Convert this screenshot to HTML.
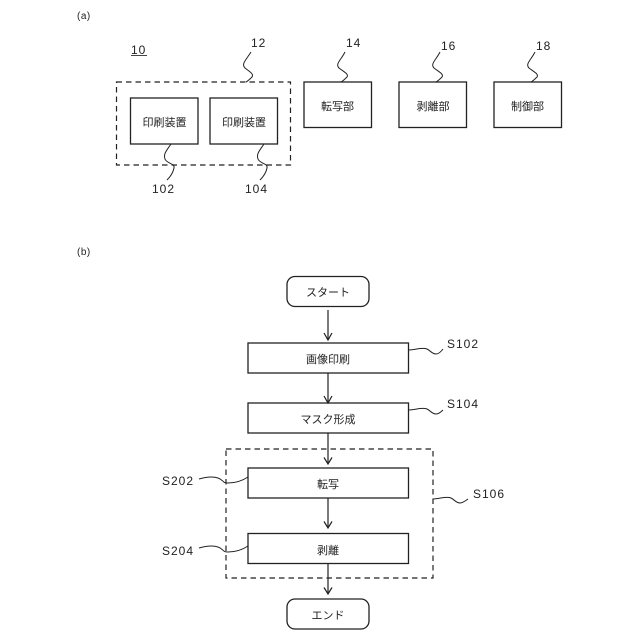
<!DOCTYPE html>
<html><head><meta charset="utf-8"><style>
html,body{margin:0;padding:0;background:#fff}
svg{display:block}
text{font-family:"Liberation Sans","Noto Sans CJK JP",sans-serif;fill:#222}
.j{font-size:11px;text-anchor:middle}
.n{font-size:12px;letter-spacing:1px}
.b{fill:#fff;stroke:#222;stroke-width:1.3}
.d{fill:none;stroke:#222;stroke-width:1.2;stroke-dasharray:5.5 4}
.w{fill:none;stroke:#222;stroke-width:1}
.a{fill:none;stroke:#222;stroke-width:1.2}
</style></head><body>
<svg width="640" height="640" viewBox="0 0 640 640" xmlns="http://www.w3.org/2000/svg">
<text x="77" y="19" style="font-size:10px;letter-spacing:.5px">(a)</text>
<text x="131" y="54" class="n">10</text>
<line x1="131" y1="55.5" x2="147" y2="55.5" stroke="#444" stroke-width="1"/>
<rect class="d" x="116.5" y="82" width="174" height="83"/>
<rect class="b" x="130.5" y="98" width="67.5" height="46"/>
<rect class="b" x="210" y="98" width="67.5" height="46"/>
<rect class="b" x="304" y="82" width="67.5" height="45.5"/>
<rect class="b" x="399" y="82" width="67.5" height="45.5"/>
<rect class="b" x="494" y="82" width="67.5" height="45.5"/>
<text class="j" x="164.500" y="126">印刷装置</text>
<text class="j" x="244" y="126">印刷装置</text>
<text class="j" x="337.500" y="110">転写部</text>
<text class="j" x="433" y="110">剥離部</text>
<text class="j" x="527.500" y="110">制御部</text>
<path class="w" d="M251 52C246 60 241 64 245 68C250 72 254 74 252 77C250 79 248 81 246 82"/>
<path class="w" d="M345 52C341 60 335 64 339 68C344 72 349 74 347 77C345 79 343 81 341 82"/>
<path class="w" d="M440 52C436 60 430 64 434 68C439 72 444 74 442 77C440 79 438 81 436 82"/>
<path class="w" d="M535 52C531 60 525 64 529 68C534 72 539 74 537 77C535 79 533 81 531 82"/>
<path class="w" d="M171 144C167 150 163 154 165 159C167 164 175 163 174 168C173 173 170 177 167 180"/>
<path class="w" d="M264 144C260 150 256 154 258 159C260 164 268 163 267 168C266 173 263 177 260 180"/>
<text class="n" x="251" y="47">12</text>
<text class="n" x="346" y="47">14</text>
<text class="n" x="441" y="50">16</text>
<text class="n" x="536" y="50">18</text>
<text class="n" x="152" y="193">102</text>
<text class="n" x="245" y="193">104</text>
<text x="77" y="255" style="font-size:10px;letter-spacing:.5px">(b)</text>
<rect class="d" x="226" y="449" width="207" height="129"/>
<rect class="b" x="287" y="276.500" width="82" height="30" rx="8"/>
<rect class="b" x="248" y="343" width="160.500" height="30"/>
<rect class="b" x="248" y="403" width="160.500" height="30"/>
<rect class="b" x="248" y="468" width="160.500" height="30"/>
<rect class="b" x="248" y="533.500" width="160.500" height="30"/>
<rect class="b" x="287" y="599" width="82" height="30" rx="8"/>
<text class="j" x="328" y="296">スタート</text>
<text class="j" x="328" y="363">画像印刷</text>
<text class="j" x="328" y="423">マスク形成</text>
<text class="j" x="328" y="488">転写</text>
<text class="j" x="328" y="554">剥離</text>
<text class="j" x="328" y="619">エンド</text>
<path class="a" d="M328 310V339M324 333L328 340L332 333"/>
<path class="a" d="M328 373V402M324 396L328 403L332 396"/>
<path class="a" d="M328 433V463.500M324 457.500L328 464L332 457.500"/>
<path class="a" d="M328 498V527.500M324 521.500L328 528L332 521.500"/>
<path class="a" d="M328 563.500V593.500M324 587.500L328 594L332 587.500"/>
<path class="w" d="M409 350C415 350 422 347 427 349C431 351 432 354 436 354C438 354 440 353 443 349"/>
<path class="w" d="M409 410C415 410 422 407 427 409C431 411 432 414 436 414C438 414 440 413 443 410"/>
<path class="w" d="M433 499C439 499 446 496 451 498C455 500 456 503 460 503C462 503 464 502 468 499"/>
<path class="w" d="M199 479C206 477 212 476 218 478C224 480 222 483 228 483C236 483 242 481 248 477"/>
<path class="w" d="M199 548C206 546 212 545 218 547C224 549 222 552 228 552C236 552 242 550 248 546"/>
<text class="n" x="447" y="348">S102</text>
<text class="n" x="447" y="408">S104</text>
<text class="n" x="473" y="498">S106</text>
<text class="n" x="162" y="485">S202</text>
<text class="n" x="162" y="555">S204</text>
</svg>
</body></html>
